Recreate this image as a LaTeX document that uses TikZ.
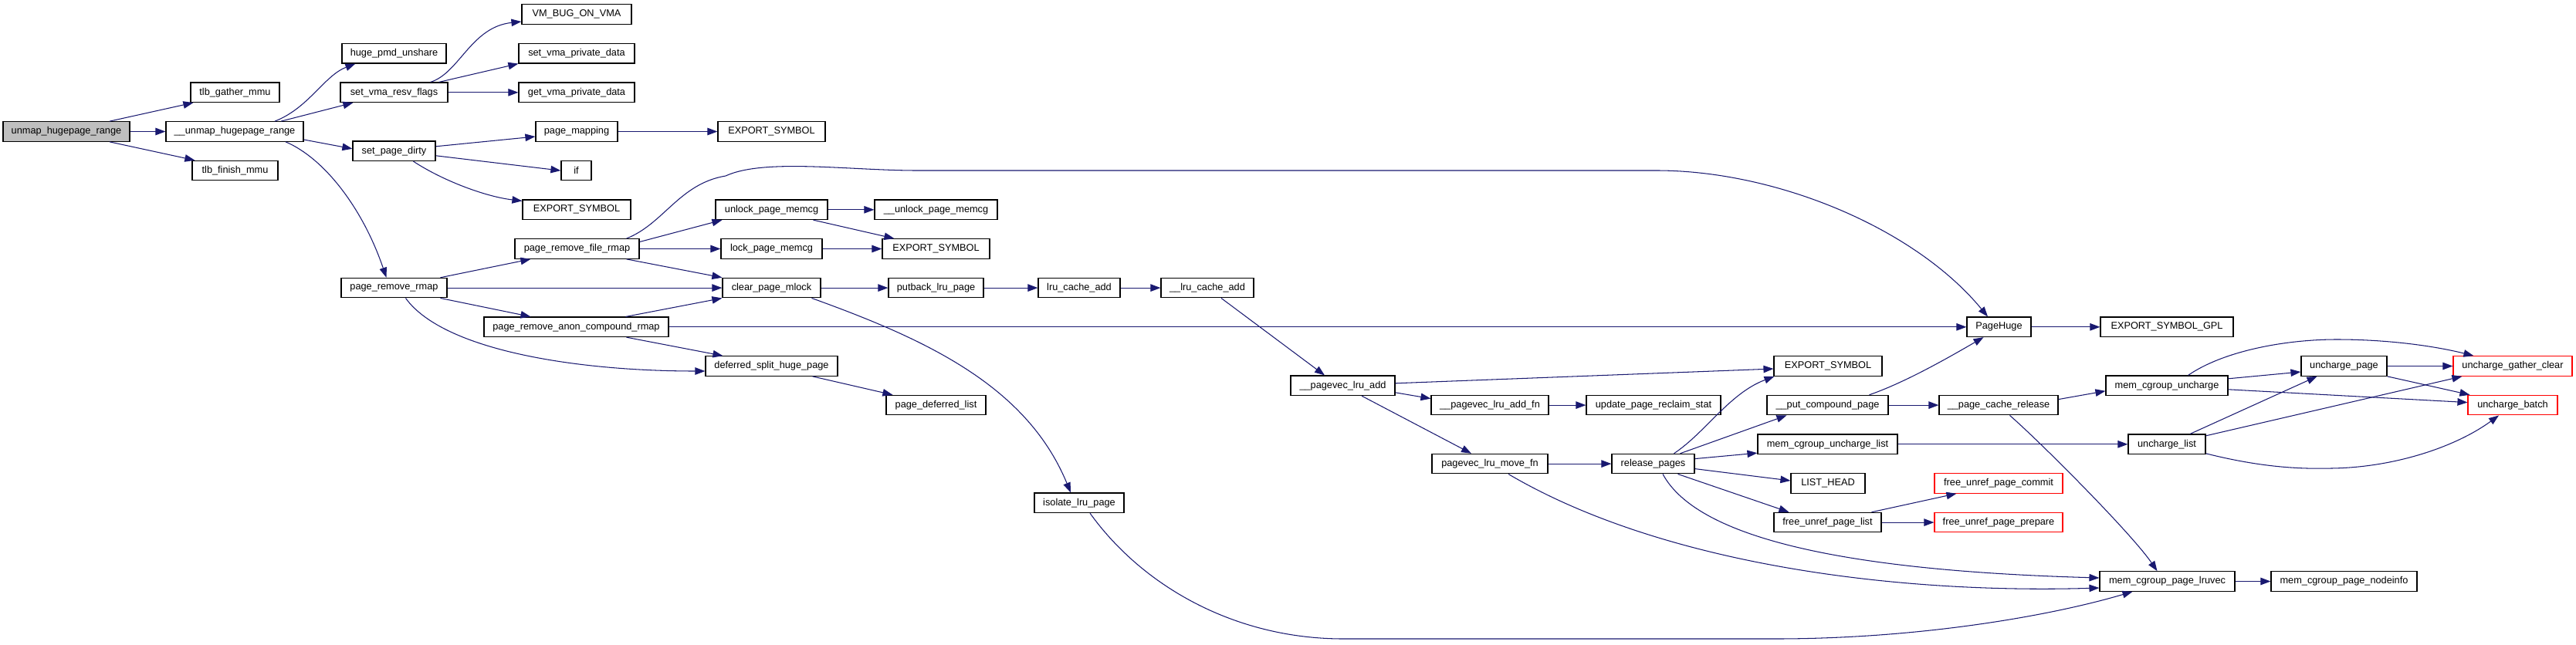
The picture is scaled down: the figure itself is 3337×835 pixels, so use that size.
\documentclass[tikz,border=0pt]{standalone}
\usepackage{fontspec}
\setmainfont{Liberation Sans}
\usetikzlibrary{arrows.meta}
\definecolor{mblue}{HTML}{191970}
\definecolor{rootgray}{HTML}{BFBFBF}
\newcommand\fsz{\fontsize{12.75}{14}\selectfont}
\tikzset{
  nbox/.style={draw=black, line width=1.2pt, fill=white, minimum height=25.5pt, inner sep=0pt, font=\fsz, text=black},
  rbox/.style={nbox, draw=red},
  rootbox/.style={nbox, fill=rootgray},
  edge/.style={draw=mblue, line width=1.05pt, -{Triangle[length=13pt,width=9.5pt]}}
}
\begin{document}
\begin{tikzpicture}[x=1pt,y=-1pt]
\useasboundingbox (0,0) rectangle (3337,835);
% column A/B
\node[rootbox, minimum width=164pt] (unmap) at (86,170.5) {unmap\_hugepage\_range};
\node[nbox, minimum width=115pt] (tlbg) at (304.5,119.8) {tlb\_gather\_mmu};
\node[nbox, minimum width=178pt] (unmapx) at (304,170.5) {\_\_unmap\_hugepage\_range};
\node[nbox, minimum width=111pt] (tlbf) at (304.5,221.1) {tlb\_finish\_mmu};
% column C
\node[nbox, minimum width=135pt] (hpmd) at (510.5,69.2) {huge\_pmd\_unshare};
\node[nbox, minimum width=139pt] (svrf) at (510.5,119.8) {set\_vma\_resv\_flags};
\node[nbox, minimum width=107pt] (spd) at (510.5,195.8) {set\_page\_dirty};
\node[nbox, minimum width=137pt] (prr) at (510.5,373.1) {page\_remove\_rmap};
% column D
\node[nbox, minimum width=142pt] (vmbug) at (747,18.5) {VM\_BUG\_ON\_VMA};
\node[nbox, minimum width=150pt] (svpd) at (747,69.2) {set\_vma\_private\_data};
\node[nbox, minimum width=150pt] (gvpd) at (747,119.8) {get\_vma\_private\_data};
\node[nbox, minimum width=106pt] (pm) at (747,170.5) {page\_mapping};
\node[nbox, minimum width=39pt] (iff) at (746.5,221.1) {if};
\node[nbox, minimum width=140pt] (exD) at (747,271.8) {EXPORT\_SYMBOL};
\node[nbox, minimum width=161pt] (prfr) at (747.5,322.5) {page\_remove\_file\_rmap};
\node[nbox, minimum width=239pt] (pracr) at (746.5,423.8) {page\_remove\_anon\_compound\_rmap};
% column E
\node[nbox, minimum width=139pt] (exE) at (999.5,170.5) {EXPORT\_SYMBOL};
\node[nbox, minimum width=145pt] (upm) at (999.5,271.8) {unlock\_page\_memcg};
\node[nbox, minimum width=131pt] (lpm) at (999.5,322.5) {lock\_page\_memcg};
\node[nbox, minimum width=127pt] (cpm) at (999.5,373.1) {clear\_page\_mlock};
\node[nbox, minimum width=171pt] (dsh) at (999.5,474.5) {deferred\_split\_huge\_page};
% column F
\node[nbox, minimum width=159pt] (uupm) at (1212.5,271.8) {\_\_unlock\_page\_memcg};
\node[nbox, minimum width=139pt] (exF) at (1212.5,322.5) {EXPORT\_SYMBOL};
\node[nbox, minimum width=123pt] (plp) at (1212.5,373.1) {putback\_lru\_page};
\node[nbox, minimum width=129pt] (pdl) at (1212.5,525.1) {page\_deferred\_list};
% column G/H
\node[nbox, minimum width=106pt] (lca) at (1398,373.1) {lru\_cache\_add};
\node[nbox, minimum width=116pt] (iso) at (1398,651.8) {isolate\_lru\_page};
\node[nbox, minimum width=120pt] (ulca) at (1564,373.1) {\_\_lru\_cache\_add};
% column I/J/K
\node[nbox, minimum width=135pt] (pla) at (1739.5,499.8) {\_\_pagevec\_lru\_add};
\node[nbox, minimum width=152pt] (plaf) at (1930,525.1) {\_\_pagevec\_lru\_add\_fn};
\node[nbox, minimum width=150pt] (plmf) at (1930,601.1) {pagevec\_lru\_move\_fn};
\node[nbox, minimum width=174pt] (upr) at (2142,525.1) {update\_page\_reclaim\_stat};
\node[nbox, minimum width=107pt] (rp) at (2141.5,601.1) {release\_pages};
% column L
\node[nbox, minimum width=140pt] (exG) at (2368,474.5) {EXPORT\_SYMBOL};
\node[nbox, minimum width=157pt] (pcp) at (2367.5,525.1) {\_\_put\_compound\_page};
\node[nbox, minimum width=181pt] (mcul) at (2367.5,575.8) {mem\_cgroup\_uncharge\_list};
\node[nbox, minimum width=96pt] (lh) at (2368,626.4) {LIST\_HEAD};
\node[nbox, minimum width=139pt] (fupl) at (2367.5,677.1) {free\_unref\_page\_list};
% column M
\node[nbox, minimum width=83pt] (ph) at (2589.5,423.8) {PageHuge};
\node[nbox, minimum width=154pt] (pcr) at (2589,525.1) {\_\_page\_cache\_release};
\node[rbox, minimum width=166pt] (fupc) at (2589,626.4) {free\_unref\_page\_commit};
\node[rbox, minimum width=166pt] (fupp) at (2589,677.1) {free\_unref\_page\_prepare};
% column N
\node[nbox, minimum width=172pt] (gpl) at (2807,423.8) {EXPORT\_SYMBOL\_GPL};
\node[nbox, minimum width=158pt] (mcu) at (2807,499.8) {mem\_cgroup\_uncharge};
\node[nbox, minimum width=100pt] (ul) at (2807,575.8) {uncharge\_list};
\node[nbox, minimum width=175pt] (lruvec) at (2807.5,753.5) {mem\_cgroup\_page\_lruvec};
% column O/P
\node[nbox, minimum width=111pt] (up) at (3036.5,474.5) {uncharge\_page};
\node[nbox, minimum width=189pt] (ninfo) at (3036.5,753.5) {mem\_cgroup\_page\_nodeinfo};
\node[rbox, minimum width=154pt] (ugc) at (3255,474.5) {uncharge\_gather\_clear};
\node[rbox, minimum width=116pt] (ub) at (3255,525.1) {uncharge\_batch};

% ---- edges ----
\draw[edge] ([xshift=56pt]unmap.north) -- ([xshift=4pt]tlbg.south west);
\draw[edge] (unmap.east) -- (unmapx.west);
\draw[edge] ([xshift=56pt]unmap.south) -- ([xshift=4pt]tlbf.north west);
\draw[edge] ([xshift=52pt]unmapx.north) .. controls (400,140) and (420,98) .. ([xshift=18pt]hpmd.south west);
\draw[edge] ([xshift=60pt]unmapx.north) -- ([xshift=17pt]svrf.south west);
\draw[edge] ([yshift=-10.5pt]unmapx.east) -- ([yshift=3pt]spd.west);
\draw[edge] ([xshift=66pt]unmapx.south) .. controls (420,205) and (470,270) .. ([xshift=-10pt]prr.north);
\draw[edge] ([xshift=47pt]svrf.north) .. controls (595,95) and (610,35) .. ([yshift=-9.5pt]vmbug.west);
\draw[edge] ([xshift=58pt]svrf.north) -- (svpd.south west);
\draw[edge] (svrf.east) -- (gvpd.west);
\draw[edge] ([yshift=6pt]spd.east) -- ([yshift=-6.5pt]pm.west);
\draw[edge] ([yshift=-6pt]spd.east) -- (iff.west);
\draw[edge] ([xshift=25pt]spd.south) .. controls (575,235) and (630,255) .. ([yshift=-2pt]exD.north west);
\draw[edge] (pm.east) -- (exE.west);
\draw[edge] ([xshift=60pt]prr.north) -- ([xshift=21pt]prfr.south west);
\draw[edge] (prr.east) -- (cpm.west);
\draw[edge] ([xshift=60pt]prr.south) -- ([xshift=61pt]pracr.north west);
\draw[edge] ([xshift=15pt]prr.south) .. controls (575,455) and (750,481) .. ([yshift=-6.5pt]dsh.west);
\draw[edge] ([xshift=64pt]prfr.north) .. controls (860,290) and (880,238) .. (940,228)
   .. controls (990,205) and (1100,221) .. (1188,221) -- (2146,221)
   .. controls (2300,221) and (2480,295) .. ([xshift=-14.5pt]ph.north);
\draw[edge] ([yshift=9pt]prfr.east) -- ([xshift=9pt]upm.south west);
\draw[edge] (prfr.east) -- (lpm.west);
\draw[edge] ([xshift=64pt]prfr.south) -- (cpm.north west);
\draw[edge] ([xshift=64pt]pracr.north) -- (cpm.south west);
\draw[edge] (pracr.east) -- (ph.west);
\draw[edge] ([xshift=65pt]pracr.south) -- ([xshift=23pt]dsh.north west);
\draw[edge] (upm.east) -- (uupm.west);
\draw[edge] ([xshift=54pt]upm.south) -- ([xshift=16pt]exF.north west);
\draw[edge] (lpm.east) -- (exF.west);
\draw[edge] (cpm.east) -- (plp.west);
\draw[edge] ([xshift=52pt]cpm.south) .. controls (1200,440) and (1330,500) .. ([xshift=-11pt]iso.north);
\draw[edge] (plp.east) -- (lca.west);
\draw[edge] (lca.east) -- (ulca.west);
\draw[edge] ([xshift=18pt]ulca.south) -- ([xshift=-23.5pt]pla.north);
\draw[edge] ([xshift=53pt]dsh.south) -- ([xshift=9pt]pdl.north west);
\draw[edge] ([yshift=3pt]pla.east) -- ([yshift=-3.5pt]exG.west);
\draw[edge] ([yshift=-9pt]pla.east) -- ([yshift=8.5pt]plaf.west);
\draw[edge] ([xshift=24.5pt]pla.south) -- ([xshift=-24pt]plmf.north);
\draw[edge] (plaf.east) -- (upr.west);
\draw[edge] (plmf.east) -- (rp.west);
\draw[edge] ([xshift=24pt]plmf.south) .. controls (2150,730) and (2450,770) .. ([yshift=-8.5pt]lruvec.west);
\draw[edge] ([xshift=27pt]rp.north) .. controls (2210,560) and (2240,510) .. ([xshift=1pt]exG.south west);
\draw[edge] ([xshift=35pt]rp.north) -- ([xshift=26pt]pcp.south west);
\draw[edge] ([yshift=6.5pt]rp.east) -- ([yshift=2pt]mcul.south west);
\draw[edge] ([yshift=-6.5pt]rp.east) -- ([yshift=3.4pt]lh.west);
\draw[edge] ([xshift=32pt]rp.south) -- ([xshift=20pt]fupl.north west);
\draw[edge] ([xshift=12.5pt]rp.south) .. controls (2200,700) and (2400,740) .. ([yshift=4.5pt]lruvec.west);
\draw[edge] ([xshift=54pt]pcp.north) .. controls (2470,495) and (2530,460) .. ([xshift=-20pt]ph.south);
\draw[edge] (pcp.east) -- (pcr.west);
\draw[edge] (ph.east) -- (gpl.west);
\draw[edge] ([yshift=7.5pt]pcr.east) -- ([yshift=-7pt]mcu.west);
\draw[edge] ([xshift=14.5pt]pcr.south) .. controls (2640,570) and (2760,690) .. ([xshift=-13pt]lruvec.north);
\draw[edge] (mcul.east) -- (ul.west);
\draw[edge] ([xshift=57pt]fupl.north) -- ([xshift=29pt]fupc.south west);
\draw[edge] (fupl.east) -- (fupp.west);
\draw[edge] (lruvec.east) -- (ninfo.west);
\draw[edge] ([yshift=9pt]mcu.east) -- ([yshift=-7.5pt]up.west);
\draw[edge] ([xshift=27.5pt]mcu.north) .. controls (2880,455) and (2960,440) .. (3027,440)
   .. controls (3100,440) and (3160,450) .. ([xshift=27pt]ugc.north west);
\draw[edge] ([yshift=-5pt]mcu.east) -- ([yshift=3.5pt]ub.west);
\draw[edge] ([xshift=30pt]ul.north) -- ([xshift=21pt]up.south west);
\draw[edge] ([yshift=11pt]ul.east) -- ([xshift=12pt]ugc.south west);
\draw[edge] ([yshift=-12pt]ul.east) .. controls (2930,606) and (2980,608) .. (3020,607)
   .. controls (3100,606) and (3180,580) .. ([xshift=-18pt]ub.south);
\draw[edge] (up.east) -- (ugc.west);
\draw[edge] (up.south east) -- ([xshift=3pt]ub.north west);
\draw[edge] ([xshift=14pt]iso.south) .. controls (1480,760) and (1600,828) .. (1740,828) -- (2300,828)
   .. controls (2480,828) and (2650,800) .. ([xshift=-45pt]lruvec.south);
\end{tikzpicture}
\end{document}
